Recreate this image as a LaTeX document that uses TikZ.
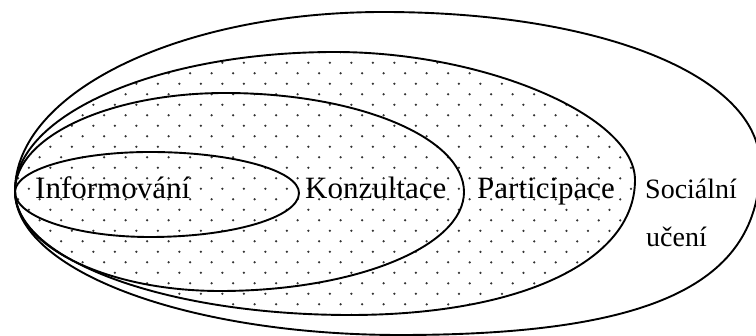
\documentclass[tikz,border=0pt]{standalone}
\usepackage{fontspec}
\setmainfont{Liberation Serif}
\begin{document}
\begin{tikzpicture}[x=1pt,y=-1pt,
  % egg: left, top, right, bottom extreme points; #9 = control factor of the upper right quarter
  egg/.style n args={9}{insert path={(#1,#2) .. controls (#1,{#2-0.5523*(#2-#4)}) and ({#3-0.5523*(#3-#1)},#4) .. (#3,#4)
     .. controls ({#3+#9*(#5-#3)},#4) and (#5,{#6-#9*(#6-#4)}) .. (#5,#6)
     .. controls (#5,{#6+\eggk*(#8-#6)}) and ({#7+\eggk*(#5-#7)},#8) .. (#7,#8)
     .. controls ({#7-0.5523*(#7-#1)},#8) and (#1,{#2+0.5523*(#8-#2)}) .. cycle}},
  outline/.style={draw=black,line width=1.9pt},
  dotcol/.style={fill=black!80},
  biglabel/.style={anchor=base west,inner sep=0pt,font=\fontsize{31}{36}\selectfont},
  smalllabel/.style={anchor=base west,inner sep=0pt,font=\fontsize{28}{33}\selectfont}]
\useasboundingbox (0,0) rectangle (756,336);
% dotted fill of the Participace region
\def\eggk{0.6}
\begin{scope}
  \clip[egg={15}{191}{335}{52}{635}{180}{350}{315}{0.5}];
  \foreach \m in {-23,...,3}{
    \pgfmathsetmacro\off{mod(abs(\m),2)*10.75}
    \foreach \k in {-10,...,20}{
      \fill[dotcol] ({211.7+21.5*\k-\off},{283.3+10.5*\m}) circle (1.25pt);
    }
  }
\end{scope}
% outlines
\def\eggk{0.7}
\draw[outline,egg={15}{191}{383}{12}{760}{165}{400}{335}{0.58}];
\def\eggk{0.6}
\draw[outline,egg={15}{191}{335}{52}{635}{180}{350}{315}{0.5}];
\def\eggk{0.5523}
\draw[outline,egg={15}{191}{225}{93}{464}{192}{220}{291}{0.5523}];
\draw[outline,egg={15}{192}{150}{152}{299}{193}{150}{237}{0.5523}];
% labels
\node[biglabel] (inf) at (35,199) {Informování};
\node[biglabel] (kon) at (305,199) {Konzultace};
\node[biglabel] (par) at (477,199) {Participace};
\node[smalllabel] (soc) at (645,199) {Sociální};
\node[smalllabel] (uc) at (646,247) {učení};
\end{tikzpicture}
\end{document}
